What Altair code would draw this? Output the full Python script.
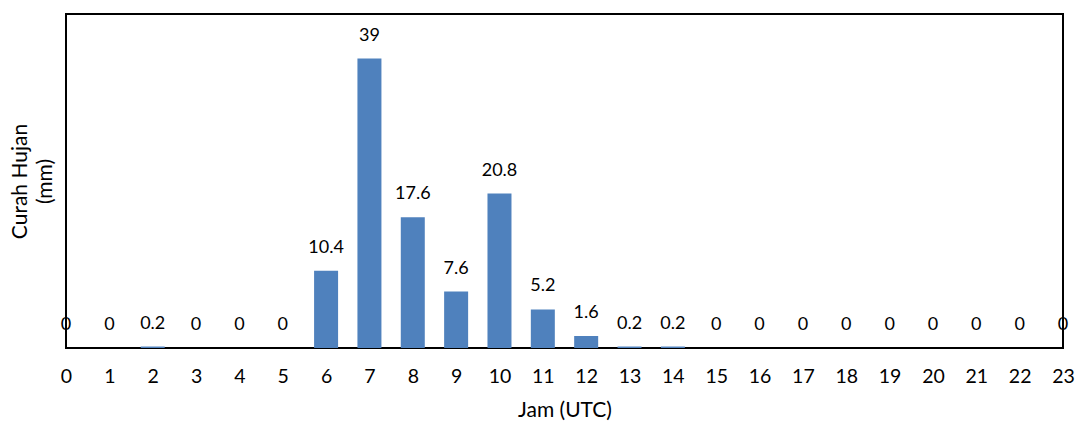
import altair as alt
import pandas as pd

hours = list(range(24))
rain = [0, 0, 0.2, 0, 0, 0, 10.4, 39, 17.6, 7.6, 20.8, 5.2, 1.6, 0.2, 0.2,
        0, 0, 0, 0, 0, 0, 0, 0, 0]

df = pd.DataFrame({"jam": hours, "hujan": rain})

FONT = "Lato"

x = alt.X(
    "jam:Q",
    scale=alt.Scale(domain=[0, 23], nice=False, zero=False, padding=0),
    axis=alt.Axis(
        values=hours, format="d", title="Jam (UTC)", grid=False, ticks=False,
        tickSize=0, domain=False, labelFont=FONT, labelFontSize=19.5,
        labelColor="black", labelBaseline="middle", labelPadding=28,
        labelFlush=False, labelOverlap=False,
        titleFont=FONT, titleFontSize=21, titleFontWeight="normal",
        titleColor="black", titleY=62, titleBaseline="middle",
    ),
)
y = alt.Y(
    "hujan:Q",
    scale=alt.Scale(domain=[0, 45], nice=False),
    axis=alt.Axis(
        title=["Curah Hujan", "(mm)"], labels=False, ticks=False, domain=False,
        grid=False, titleFont=FONT, titleFontSize=21, titleFontWeight="normal",
        titleColor="black", titleAngle=-90, titleX=-46, titleY=167,
        titleBaseline="middle", titleAlign="center", titleLineHeight=25,
    ),
)

bars = alt.Chart(df).mark_bar(width=24, color="#4F81BD").encode(x=x, y=y)
labels = alt.Chart(df).mark_text(
    font=FONT, fontSize=18, color="black", baseline="middle", dy=-23
).encode(x=x, y=y, text=alt.Text("hujan:Q", format="~g"))

chart = (
    alt.layer(bars, labels)
    .properties(
        width=997, height=334,
        autosize=alt.AutoSizeParams(type="none"),
        padding={"left": 66, "top": 14, "right": 14, "bottom": 74},
        background="white",
    )
    .configure_view(stroke="black", strokeWidth=2)
)

chart.save("out.html", embed_options={"renderer": "svg", "actions": False})
